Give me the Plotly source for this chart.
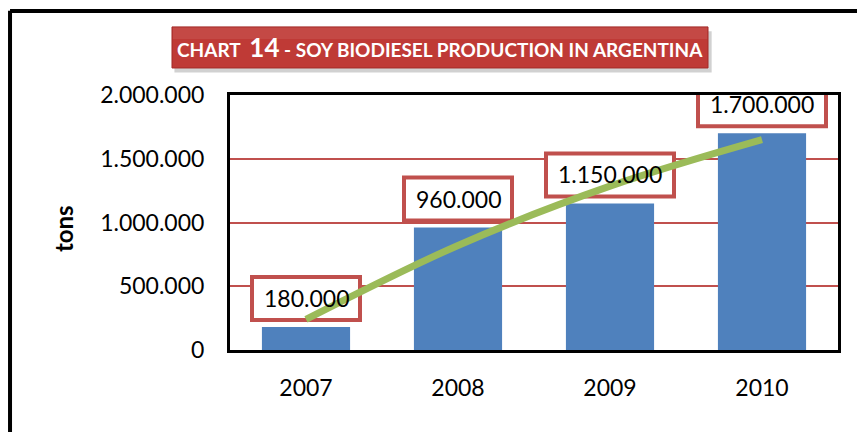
import plotly.graph_objects as go

years = ["2007", "2008", "2009", "2010"]
production = [180000, 960000, 1150000, 1700000]
labels = ["180.000", "960.000", "1.150.000", "1.700.000"]
trend = [240000, 820000, 1285000, 1650000]
y_ticks = [0, 500000, 1000000, 1500000, 2000000]

FONT = "Lato"
RED = "#C0504D"

fig = go.Figure()
fig.add_trace(go.Bar(x=years, y=production, width=0.58,
                     marker=dict(color="#4F81BD", line=dict(width=0)),
                     hoverinfo="skip", showlegend=False))
fig.add_trace(go.Scatter(x=years, y=trend, mode="lines",
                         line=dict(color="#9BBB59", width=7, shape="spline"),
                         hoverinfo="skip", showlegend=False))

shapes = []
annotations = []
for i, (v, lab) in enumerate(zip(production, labels)):
    w = 10 * len(lab) + 38
    shapes.append(dict(type="rect", xref="x", yref="y", xsizemode="pixel", ysizemode="pixel",
                       xanchor=i, yanchor=v, x0=-w / 2, x1=w / 2, y0=7, y1=50,
                       fillcolor="white", line=dict(color=RED, width=4), layer="between"))
    annotations.append(dict(x=i, y=v, xref="x", yref="y", yshift=29, text=lab, showarrow=False,
                            xanchor="center", yanchor="middle",
                            font=dict(family=FONT, size=23, color="black")))

# outer frame (left and top)
shapes.append(dict(type="line", xref="paper", yref="paper", x0=-0.3618, x1=-0.3618, y0=1.33, y1=-0.4,
                   line=dict(color="black", width=4)))
shapes.append(dict(type="line", xref="paper", yref="paper", x0=-0.3618, x1=1.1, y0=1.329, y1=1.329,
                   line=dict(color="black", width=4)))
# title box shadow + box
shapes.append(dict(type="rect", xref="paper", yref="paper", x0=-0.0914, x1=0.7922, y0=1.088, y1=1.25,
                   fillcolor="rgba(0,0,0,0.18)", line=dict(width=0)))
shapes.append(dict(type="rect", xref="paper", yref="paper", x0=-0.0954, x1=0.7862, y0=1.106, y1=1.267,
                   fillcolor="#BF3A36", line=dict(color="#A32B28", width=1)))
shapes.append(dict(type="rect", xref="paper", yref="paper", x0=-0.094, x1=0.785, y0=1.22, y1=1.265,
                   fillcolor="rgba(255,255,255,0.08)", line=dict(width=0)))

annotations.append(dict(x=0.3454, y=1.188, xref="paper", yref="paper", showarrow=False,
                        xanchor="center", yanchor="middle",
                        text="<b>CHART  <span style='font-size:26px'>14</span> - SOY BIODIESEL PRODUCTION IN ARGENTINA</b>",
                        font=dict(family=FONT, size=19, color="white")))
annotations.append(dict(x=-0.2747, y=0.478, xref="paper", yref="paper", showarrow=False, textangle=-90,
                        xanchor="center", yanchor="middle",
                        text="<b>tons</b>", font=dict(family=FONT, size=24, color="black")))

fig.update_layout(
    width=857, height=432,
    margin=dict(l=230, r=19, t=95, b=82),
    paper_bgcolor="white", plot_bgcolor="white",
    separators=",.",
    shapes=shapes, annotations=annotations,
    xaxis=dict(type="category", showline=True, mirror=True, linecolor="black", linewidth=3,
               showgrid=False, ticks="", ticklabelstandoff=15,
               tickfont=dict(family=FONT, size=23, color="black"), fixedrange=True),
    yaxis=dict(range=[0, 2000000], tickvals=y_ticks, tickformat=",d", showline=True, mirror=True,
               linecolor="black", linewidth=3, showgrid=True, gridcolor=RED, gridwidth=1.5,
               zeroline=False, ticks="", ticklabelstandoff=18,
               tickfont=dict(family=FONT, size=23, color="black"), fixedrange=True),
)

fig.write_html("out.html", config={"displayModeBar": False},
               post_script="document.body.style.margin='0px';")
